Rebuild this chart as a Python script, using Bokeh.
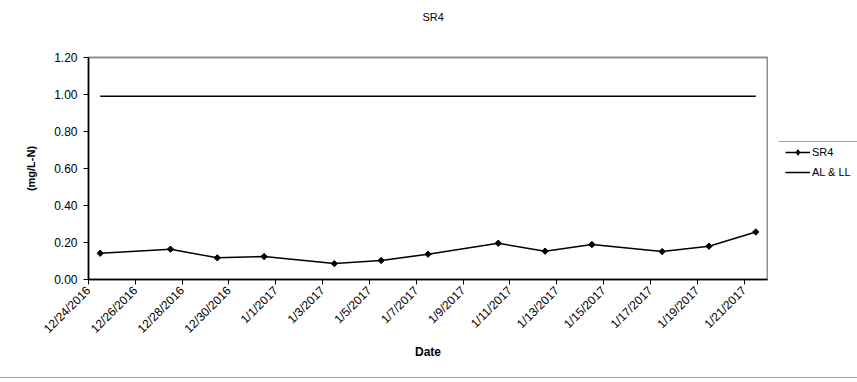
import pandas as pd
from math import pi
from bokeh.plotting import figure
from bokeh.layouts import row, column
from bokeh.models import (Range1d, FixedTicker, Legend, LegendItem, BoxAnnotation,
                          ColumnDataSource, NumeralTickFormatter, Title, Div)
from bokeh.embed import file_html
from bokeh.resources import INLINE

# ---- data ----
dates = ["2016-12-24", "2016-12-27", "2016-12-29", "2016-12-31", "2017-01-03",
         "2017-01-05", "2017-01-07", "2017-01-10", "2017-01-12", "2017-01-14",
         "2017-01-17", "2017-01-19", "2017-01-21"]
sr4 = [0.142, 0.164, 0.117, 0.124, 0.086, 0.103, 0.137, 0.196, 0.153, 0.189,
       0.151, 0.180, 0.257]
al_ll_dates = ["2016-12-24", "2017-01-21"]
al_ll = [0.99, 0.99]
tick_dates = ["2016-12-24", "2016-12-26", "2016-12-28", "2016-12-30", "2017-01-01",
              "2017-01-03", "2017-01-05", "2017-01-07", "2017-01-09", "2017-01-11",
              "2017-01-13", "2017-01-15", "2017-01-17", "2017-01-19", "2017-01-21"]
tick_labels = ["12/24/2016", "12/26/2016", "12/28/2016", "12/30/2016", "1/1/2017",
               "1/3/2017", "1/5/2017", "1/7/2017", "1/9/2017", "1/11/2017",
               "1/13/2017", "1/15/2017", "1/17/2017", "1/19/2017", "1/21/2017"]
y_ticks = [0.0, 0.2, 0.4, 0.6, 0.8, 1.0, 1.2]
x_start, x_end = "2016-12-24", "2017-01-22"

def ms(d):
    return int(pd.Timestamp(d).value // 10**6)

HALF_DAY = 12 * 3600 * 1000  # Excel date axis centres points within the day

FONT = "Liberation Sans"
GRAY = "#a0a0a0"

# ---------------- main chart ----------------
p = figure(width=768, height=377, output_backend="svg", toolbar_location=None,
           x_range=Range1d(ms(x_start), ms(x_end)), y_range=Range1d(0, 1.2),
           min_border_left=88, min_border_right=1, min_border_top=57,
           min_border_bottom=98, title="SR4")
p.background_fill_color = "white"
p.border_fill_color = "white"
p.outline_line_color = "#909090"
p.outline_line_width = 2
p.xgrid.visible = False
p.ygrid.visible = False

p.title.align = "left"
p.title.offset = 334
p.title.vertical_align = "top"
p.title.standoff = 0
p.title.text_font = FONT
p.title.text_font_size = "11px"
p.title.text_font_style = "normal"
p.title.text_color = "black"
# empty spacer between the frame and the title
p.add_layout(Title(text=" ", text_font_size="1px", standoff=30), "above")

src = ColumnDataSource(dict(x=[ms(d) + HALF_DAY for d in dates], y=sr4))
src2 = ColumnDataSource(dict(x=[ms(d) + HALF_DAY for d in al_ll_dates], y=al_ll))

p.line("x", "y", source=src2, line_color="black", line_width=1.5)
p.line("x", "y", source=src, line_color="black", line_width=1.5)
p.scatter("x", "y", source=src, marker="square", angle=pi / 4, size=4.5,
          fill_color="black", line_color="black", line_width=1)

xa = p.xaxis[0]
xa.ticker = FixedTicker(ticks=[ms(d) for d in tick_dates])
xa.major_label_overrides = {ms(d): lab for d, lab in zip(tick_dates, tick_labels)}
xa.major_label_orientation = pi / 4
xa.major_label_standoff = 4
xa.axis_label = "Date"
xa.axis_label_standoff = 1
xa.axis_label_text_font_size = "12px"
ya = p.yaxis[0]
ya.ticker = FixedTicker(ticks=y_ticks)
ya.formatter = NumeralTickFormatter(format="0.00")
ya.major_label_standoff = 6
ya.axis_label = "(mg/L-N)"
ya.axis_label_standoff = 14
ya.axis_label_text_font_size = "11px"
for a in (xa, ya):
    a.minor_tick_line_color = None
    a.major_tick_in = 0
    a.major_tick_out = 5
    a.axis_line_color = "black"
    a.axis_line_width = 1.5
    a.major_tick_line_color = "black"
    a.major_label_text_font = FONT
    a.major_label_text_font_size = "12px"
    a.major_label_text_color = "black"
    a.axis_label_text_font = FONT
    a.axis_label_text_font_style = "bold"
    a.axis_label_text_color = "black"

# ---------------- legend panel ----------------
lf = figure(width=89, height=377, output_backend="svg", toolbar_location=None,
            x_range=Range1d(0, 1), y_range=Range1d(0, 1),
            x_axis_location=None, y_axis_location=None,
            min_border_left=0, min_border_right=0, min_border_top=0,
            min_border_bottom=0)
lf.outline_line_color = None
lf.xgrid.visible = False
lf.ygrid.visible = False
lf.background_fill_color = "white"
lf.border_fill_color = "white"

nan = float("nan")
key_src = ColumnDataSource(dict(x=[nan], y=[nan]))
k_line = lf.line("x", "y", source=key_src, line_color="black", line_width=1.5)
k_pts = lf.scatter("x", "y", source=key_src, marker="diamond", size=6,
                   fill_color="black", line_color="black", line_width=1)
k_al = lf.line("x", "y", source=key_src, line_color="black", line_width=1.5)

legend = Legend(items=[LegendItem(label="SR4", renderers=[k_line, k_pts]),
                       LegendItem(label="AL & LL", renderers=[k_al])],
                location=(17, 100), padding=0, margin=0, spacing=6,
                glyph_width=25, glyph_height=14, label_height=14,
                label_standoff=2, label_text_font=FONT,
                label_text_font_size="11px", label_text_color="black",
                border_line_alpha=0, background_fill_alpha=0)
lf.add_layout(legend, "center")
lf.add_layout(BoxAnnotation(left=10, right=89, bottom=137.5, top=138.5,
                            left_units="screen", right_units="screen",
                            bottom_units="screen", top_units="screen",
                            fill_color=GRAY, fill_alpha=1, line_alpha=0))

# ---------------- chart bottom border ----------------
strip = Div(text="", width=857, height=1,
            styles={"background-color": GRAY, "margin": "0", "padding": "0"})

layout = column(row(p, lf, spacing=0), strip, spacing=0)

open("out.html", "w").write(file_html(layout, INLINE))
